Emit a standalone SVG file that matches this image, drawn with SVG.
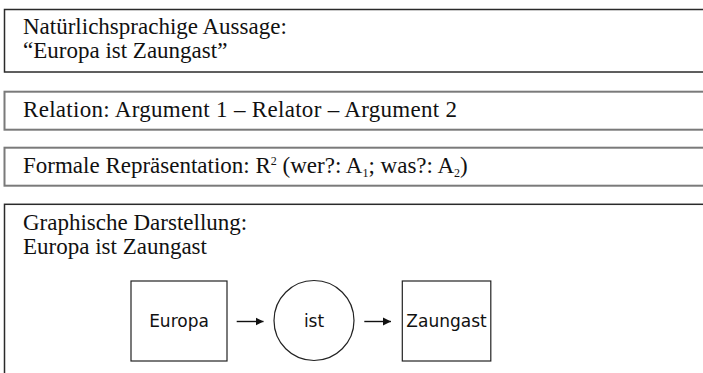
<svg xmlns="http://www.w3.org/2000/svg" width="703" height="373" viewBox="0 0 703 373">
  <style>
    .serif { font-family: "Liberation Serif", "Times New Roman", serif; font-size: 23px; fill: #111; }
    .sans { font-family: "DejaVu Sans", "Liberation Sans", sans-serif; font-size: 17px; fill: #111; }
    .panelA { fill: #fff; stroke: #2a2a2a; stroke-width: 1.5; }
    .panelB { fill: #fff; stroke: #7a7a7a; stroke-width: 2; }
    .node { fill: #fff; stroke: #222; stroke-width: 1.2; }
    .conn { stroke: #111; stroke-width: 1.4; fill: none; }
  </style>
  <defs>
    <marker id="arrow" markerUnits="userSpaceOnUse" markerWidth="9" markerHeight="9" refX="8" refY="4.5" orient="auto">
      <path d="M0,0.5 L8,4.5 L0,8.5 z" fill="#111"/>
    </marker>
  </defs>
  <rect width="703" height="373" fill="#fff"/>

  <g id="panel-aussage">
    <rect class="panelA" x="4.5" y="9.5" width="710" height="62.5"/>
    <text class="serif" x="23" y="33.5">Natürlichsprachige Aussage:</text>
    <text class="serif" x="23" y="57.5">“Europa ist Zaungast”</text>
  </g>

  <g id="panel-relation">
    <rect class="panelB" x="4.5" y="91.7" width="710" height="38"/>
    <text class="serif" x="23" y="117" letter-spacing="0.3">Relation: Argument 1 – Relator – Argument 2</text>
  </g>

  <g id="panel-formal">
    <rect class="panelB" x="4.5" y="147.7" width="710" height="38"/>
    <text class="serif" x="23" y="172.5">Formale Repräsentation: R<tspan font-size="12" dy="-8">2</tspan><tspan dy="8"> (wer?: A</tspan><tspan font-size="12" dy="4">1</tspan><tspan dy="-4">; was?: A</tspan><tspan font-size="12" dy="4">2</tspan><tspan dy="-4">)</tspan></text>
  </g>

  <g id="panel-graphisch">
    <rect class="panelA" x="4.5" y="204.3" width="710" height="190"/>
    <text class="serif" x="23" y="230">Graphische Darstellung:</text>
    <text class="serif" x="23" y="253.5">Europa ist Zaungast</text>
  </g>

  <g id="node-europa">
    <rect class="node" x="131" y="281" width="96" height="80"/>
    <text class="sans" x="179" y="326.5" text-anchor="middle">Europa</text>
  </g>

  <g id="node-ist">
    <circle class="node" cx="314" cy="320.5" r="40"/>
    <text class="sans" x="314" y="326.5" text-anchor="middle">ist</text>
  </g>

  <g id="node-zaungast">
    <rect class="node" x="402.3" y="281" width="88.5" height="80"/>
    <text class="sans" x="446.5" y="326.5" text-anchor="middle">Zaungast</text>
  </g>

  <g id="connectors">
    <line class="conn" x1="236.7" y1="321.5" x2="263.5" y2="321.5" marker-end="url(#arrow)"/>
    <line class="conn" x1="364.3" y1="321.5" x2="391" y2="321.5" marker-end="url(#arrow)"/>
  </g>
</svg>
